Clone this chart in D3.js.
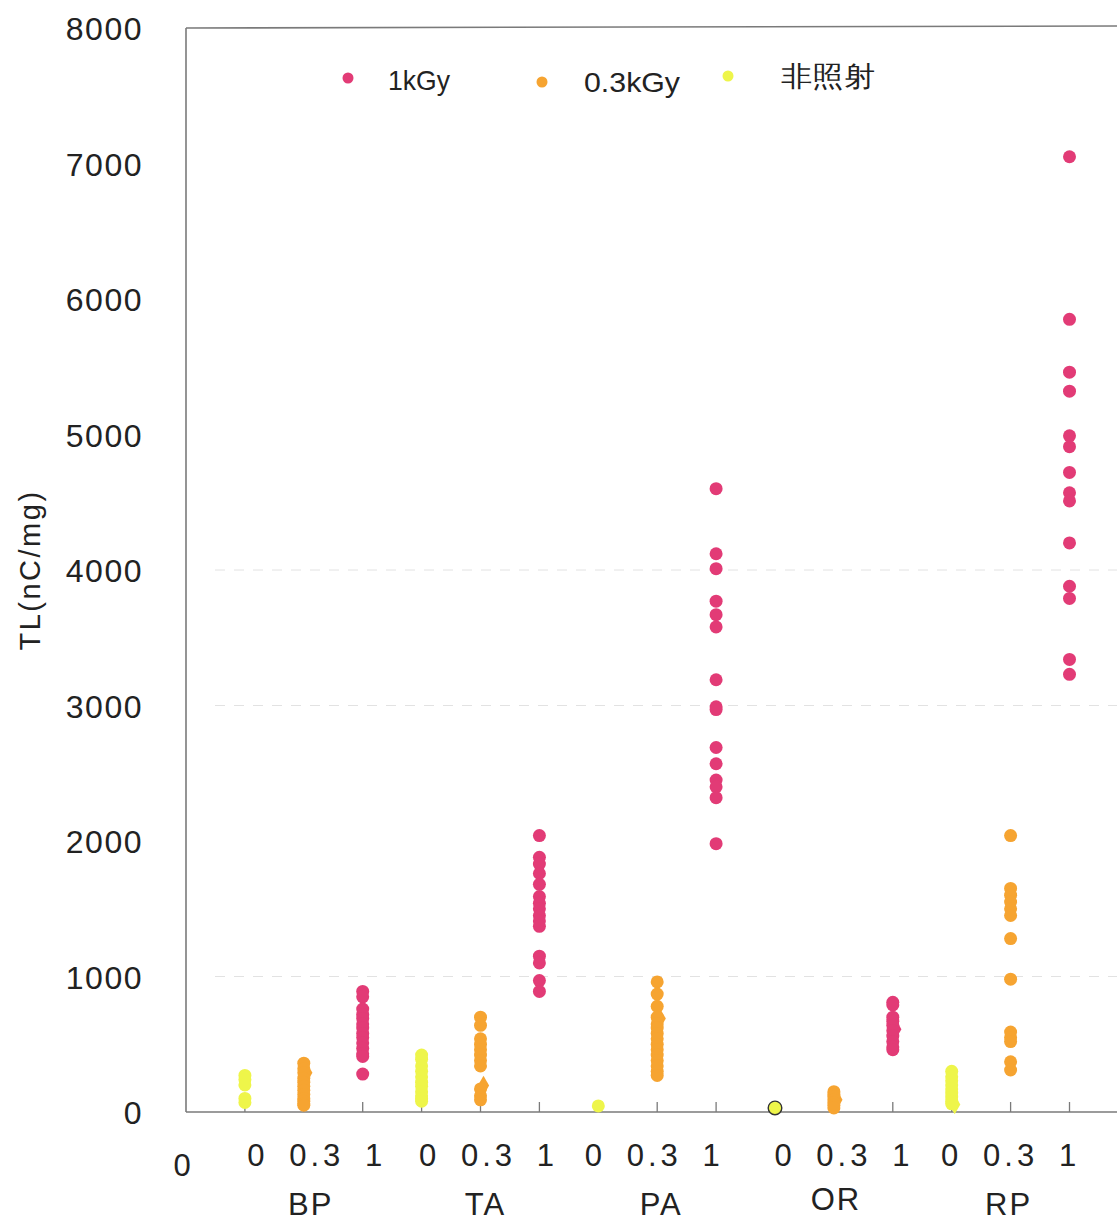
<!DOCTYPE html>
<html>
<head>
<meta charset="utf-8">
<script src="https://cdn.jsdelivr.net/npm/d3@7"></script>
<style>
  body { margin: 0; background: #fff; }
  text { font-family: "Liberation Sans", Arial, sans-serif; fill: #222; }
</style>
</head>
<body>
<svg id="chart" width="1117" height="1220"></svg>
<script>
// Sample groups and dose levels (kGy)
const groups = ["BP", "TA", "PA", "OR", "RP"];
const doseLabels = ["0", "0.3", "1"];
const yTicks = [0, 1000, 2000, 3000, 4000, 5000, 6000, 7000, 8000];
const gridValues = [1000, 3000, 4000];

// TL readings (nC/mg) per group, non-irradiated
const tl0 = {
  BP: [270, 240, 200, 100, 70],
  TA: [420, 390, 340, 300, 260, 220, 190, 150, 120, 100, 80],
  PA: [45],
  OR: [],
  RP: [300, 260, 230, 200, 170, 140, 110, 80, 60]
};
// single non-irradiated OR reading, drawn outlined
const tl0Outlined = { OR: [30] };

// TL readings (nC/mg) per group, 0.3 kGy
const tl03 = {
  BP: [360, 320, 290, 250, 220, 190, 160, 130, 100, 80, 60, 50],
  TA: [700, 640, 540, 500, 460, 420, 380, 340, 170, 120, 90],
  PA: [960, 870, 780, 700, 650, 620, 580, 540, 500, 460, 420, 380, 340, 300, 270],
  OR: [150, 130, 110, 90, 70, 50, 30],
  RP: [2040, 1650, 1600, 1550, 1500, 1450, 1280, 980, 590, 550, 520, 370, 310]
};

// TL readings (nC/mg) per group, 1 kGy
const tl1 = {
  BP: [890, 850, 760, 720, 690, 650, 620, 580, 550, 510, 470, 430, 410, 280],
  TA: [2040, 1880, 1830, 1760, 1680, 1590, 1540, 1500, 1450, 1410, 1370, 1150, 1100, 970, 890],
  PA: [4600, 4120, 4010, 3770, 3670, 3580, 3190, 2990, 2970, 2690, 2570, 2450, 2400, 2320, 1980],
  OR: [810, 790, 700, 670, 640, 600, 560, 520, 480, 460],
  RP: [7050, 5850, 5460, 5320, 4990, 4910, 4720, 4570, 4510, 4200, 3880, 3790, 3340, 3230]
};

// group means, drawn as diamonds behind the dots
const meanMarks = [
  { group: "BP", dose: 1, value: 290 },
  { group: "TA", dose: 1, value: 195 },
  { group: "PA", dose: 1, value: 690 },
  { group: "OR", dose: 1, value: 90 },
  { group: "OR", dose: 2, value: 610 },
  { group: "RP", dose: 0, value: 55 }
];

const legendItems = ["1kGy", "0.3kGy", "非照射"];
const doseColors = ["#eef54a", "#f6a431", "#e23b76"];

const svg = d3.select("#chart");

const x = d3.scaleLinear().domain([0, 16]).range([186, 186 + 16 * 58.9]);
const y = d3.scaleLinear().domain([0, 8000]).range([1112, 28]);
const xPos = (g, d) => groups.indexOf(g) * 3 + d + 1;

// faint gridlines
svg.append("g").selectAll("line").data(gridValues).join("line")
  .attr("x1", 215).attr("x2", 1117)
  .attr("y1", d => y(d)).attr("y2", d => y(d))
  .attr("stroke", "#e2e2e2").attr("stroke-width", 1)
  .attr("stroke-dasharray", "10,9");

// plot frame: left axis, top border, bottom axis
const frame = svg.append("g").attr("stroke", "#7a7a7a").attr("stroke-width", 1.6).attr("fill", "none");
frame.append("line").attr("x1", x(0)).attr("x2", x(0)).attr("y1", y(8000)).attr("y2", y(0));
frame.append("line").attr("x1", x(0)).attr("x2", 1117).attr("y1", y(8000)).attr("y2", y(8000) - 2);
frame.append("line").attr("x1", x(0)).attr("x2", 1117).attr("y1", y(0)).attr("y2", y(0));

// inward ticks along the x axis
svg.append("g").selectAll("line").data(d3.range(1, 16)).join("line")
  .attr("x1", d => x(d)).attr("x2", d => x(d))
  .attr("y1", y(0)).attr("y2", y(0) - 10)
  .attr("stroke", "#7a7a7a").attr("stroke-width", 1.3);

// y tick labels
svg.append("g").selectAll("text").data(yTicks).join("text")
  .attr("x", 143).attr("y", d => y(d) + 1)
  .attr("text-anchor", "end").attr("dominant-baseline", "central")
  .attr("font-size", 32).attr("letter-spacing", 1.5)
  .text(d => d);

// y axis title
svg.append("text")
  .attr("transform", "translate(30,570) rotate(-90)")
  .attr("text-anchor", "middle").attr("dominant-baseline", "central")
  .attr("font-size", 29).attr("letter-spacing", 2.5)
  .text("TL(nC/mg)");

// x labels: origin, dose labels per group, group names
svg.append("text").attr("x", 182).attr("y", 1165)
  .attr("text-anchor", "middle").attr("dominant-baseline", "central")
  .attr("font-size", 31).text("0");

const subShift = [11, 6, -5, 8, -2];
const groupShift = [7, 5, 4, 2, -2];
const groupRowY = [1204, 1204, 1204, 1199, 1204];
groups.forEach((g, gi) => {
  doseLabels.forEach((lab, di) => {
    svg.append("text")
      .attr("x", x(xPos(g, di)) + subShift[gi] + (lab.length > 1 ? 2 : 0))
      .attr("y", 1155)
      .attr("text-anchor", "middle").attr("dominant-baseline", "central")
      .attr("font-size", 31).attr("letter-spacing", lab.length > 1 ? 4 : 0)
      .text(lab);
  });
  svg.append("text")
    .attr("x", x(xPos(g, 1)) + groupShift[gi])
    .attr("y", groupRowY[gi])
    .attr("text-anchor", "middle").attr("dominant-baseline", "central")
    .attr("font-size", 31).attr("letter-spacing", 2)
    .text(g);
});

// mean diamonds
const diamond = d3.symbol().type(d3.symbolDiamond).size(110);
svg.append("g").selectAll("path").data(meanMarks).join("path")
  .attr("d", diamond)
  .attr("transform", d => `translate(${x(xPos(d.group, d.dose)) + 3},${y(d.value)})`)
  .attr("fill", d => doseColors[d.dose]);

// data points
const seriesByDose = [tl0, tl03, tl1];
const points = [];
seriesByDose.forEach((series, di) => {
  groups.forEach(g => {
    (series[g] || []).forEach(v => points.push({ g, di, v }));
  });
});
svg.append("g").selectAll("circle").data(points).join("circle")
  .attr("cx", d => x(xPos(d.g, d.di)))
  .attr("cy", d => y(d.v))
  .attr("r", 6.5)
  .attr("fill", d => doseColors[d.di]);

const outlined = [];
Object.keys(tl0Outlined).forEach(g => tl0Outlined[g].forEach(v => outlined.push({ g, v })));
svg.append("g").selectAll("circle").data(outlined).join("circle")
  .attr("cx", d => x(xPos(d.g, 0)))
  .attr("cy", d => y(d.v))
  .attr("r", 6.8)
  .attr("fill", doseColors[0])
  .attr("stroke", "#333").attr("stroke-width", 1.4);

// legend
const legendDots = [[348, 78], [542, 82], [728, 76]];
const legendText = [[388, 80, 62], [584, 82, 96], [781, 76, 94]];
const legendColor = [doseColors[2], doseColors[1], doseColors[0]];
legendItems.forEach((lab, i) => {
  svg.append("circle")
    .attr("cx", legendDots[i][0]).attr("cy", legendDots[i][1])
    .attr("r", 5.5).attr("fill", legendColor[i]);
  svg.append("text")
    .attr("x", legendText[i][0]).attr("y", legendText[i][1])
    .attr("dominant-baseline", "central")
    .attr("font-family", "'Noto Sans CJK JP', sans-serif")
    .attr("font-size", 28)
    .attr("textLength", legendText[i][2])
    .attr("lengthAdjust", "spacingAndGlyphs")
    .text(lab);
});
</script>
</body>
</html>
